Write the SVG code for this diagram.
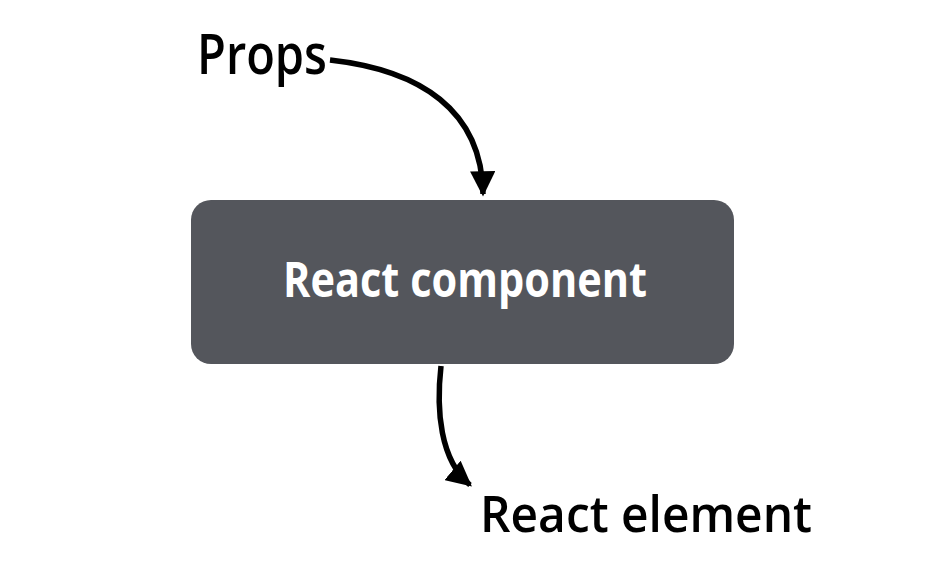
<svg xmlns="http://www.w3.org/2000/svg" width="934" height="566" viewBox="0 0 934 566">
<style>
.lbl{font-family:"Open Sans","Noto Sans",sans-serif;font-weight:600;fill:#000}
.node-text{font-family:"Open Sans","Noto Sans",sans-serif;font-size:49px;font-weight:bold;fill:#fff}
.conn{fill:none;stroke:#000;stroke-width:5.5}
</style>
<defs>
<marker id="ah" viewBox="0 0 10 10" refX="9" refY="5" markerWidth="4.6" markerHeight="4.6" orient="auto" markerUnits="strokeWidth">
<path d="M0,0 L10,5 L0,10 Z" fill="#000"/>
</marker>
</defs>
<rect width="934" height="566" fill="#fff"/>
<g id="props">
<text class="lbl" x="197" y="74" font-size="56" textLength="130" lengthAdjust="spacingAndGlyphs">Props</text>
</g>
<g id="component">
<rect x="191" y="200" width="543" height="164" rx="20" fill="#54565c"/>
<text class="node-text" x="283" y="297" textLength="364" lengthAdjust="spacingAndGlyphs">React component</text>
</g>
<g id="element">
<text class="lbl" x="480" y="532" font-size="50" textLength="332" lengthAdjust="spacingAndGlyphs">React element</text>
</g>
<g id="connectors">
<path class="conn" d="M330,60 C420,70 482,110 483,194" marker-end="url(#ah)"/>
<path class="conn" d="M441,366 C436,410 440,460 470,485" marker-end="url(#ah)"/>
</g>
</svg>
